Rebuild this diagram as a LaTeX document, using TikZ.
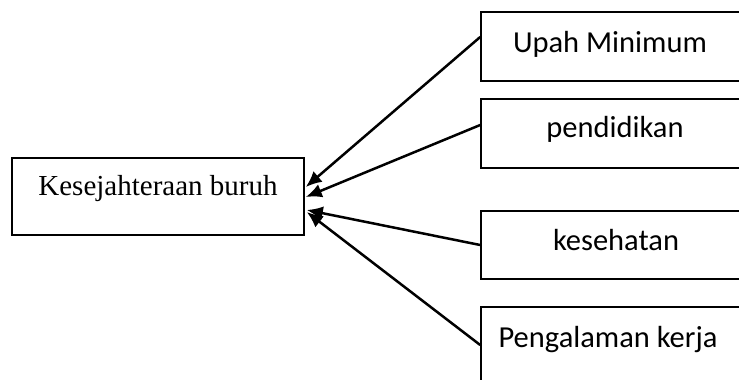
\documentclass[tikz,border=0pt]{standalone}
\usepackage{fontspec}
\setmainfont{Liberation Serif}
\newfontfamily\calfont{Carlito}
\usetikzlibrary{arrows.meta}
\begin{document}
\begin{tikzpicture}[x=1pt,y=-1pt,
  boxstyle/.style={draw, line width=1.6pt, inner sep=0pt},
  caltext/.style={anchor=base, font=\calfont\fontsize{30.5}{36}\selectfont},
  arr/.style={line width=2.5pt, -{Latex[length=16pt,width=14pt]}}]
\useasboundingbox (0,0) rectangle (739,380);
\clip (0,0) rectangle (739,380);
\fill[white] (0,0) rectangle (739,380);
% left box
\node[boxstyle, minimum width=292pt, minimum height=77pt] (kb) at (158,196.5) {};
\node[anchor=base, font=\fontsize{29}{34}\selectfont] (kbt) at (158,195) {Kesejahteraan buruh};
% right boxes
\node[boxstyle, minimum width=264pt, minimum height=69pt] (u) at (613,46.5) {};
\node[caltext] (ut) at (610,52) {Upah Minimum};
\node[boxstyle, minimum width=264pt, minimum height=69pt] (p) at (613,133.5) {};
\node[caltext] (pt) at (615,137) {pendidikan};
\node[boxstyle, minimum width=264pt, minimum height=68pt] (k) at (613,245) {};
\node[caltext] (kt) at (616,250) {kesehatan};
\node[boxstyle, minimum width=264pt, minimum height=90pt] (g) at (613,352) {};
\node[caltext] (gt) at (608,347) {Pengalaman kerja};
% arrows
\draw[arr] ([yshift=9.5pt]u.west) -- ([xshift=1pt,yshift=9.5pt]kb.east);
\draw[arr] ([yshift=8.5pt]p.west) -- ([xshift=1pt,yshift=-0.5pt]kb.east);
\draw[arr] (k.west) -- ([xshift=2pt,yshift=-13.5pt]kb.east);
\draw[arr] ([yshift=7pt]g.west) -- ([xshift=2pt,yshift=-15.5pt]kb.east);
\end{tikzpicture}
\end{document}
